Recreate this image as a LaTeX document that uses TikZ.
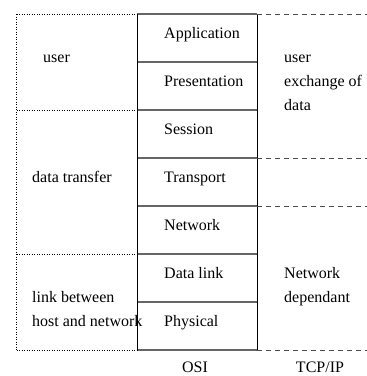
\documentclass[tikz,border=0pt]{standalone}
\usepackage{fontspec}
\setmainfont{Liberation Serif}
\begin{document}
\begin{tikzpicture}[x=1pt,y=-1pt,
  lbl/.style={anchor=base west,inner sep=0pt,font=\fontsize{16}{19}\selectfont},
  captxt/.style={anchor=base,inner sep=0pt,font=\fontsize{16}{19}\selectfont},
  layerline/.style={draw=black!60,line width=1.1pt},
  colline/.style={draw=black,line width=0.9pt},
  dotline/.style={draw=black,line width=0.9pt,dash pattern=on 1pt off 1.5pt},
  dashline/.style={draw=black!70,line width=0.9pt,dash pattern=on 5pt off 4pt}]
\useasboundingbox (0,0) rectangle (367,376);
% coordinates
\coordinate (L0) at (16.5,14);
\coordinate (L1) at (16.5,110);
\coordinate (L2) at (16.5,254);
\coordinate (L3) at (16.5,350);
\coordinate (A0) at (137,14);
\coordinate (A1) at (137,62);
\coordinate (A2) at (137,110);
\coordinate (A3) at (137,158);
\coordinate (A4) at (137,206);
\coordinate (A5) at (137,254);
\coordinate (A6) at (137,302);
\coordinate (A7) at (137,350);
\coordinate (B0) at (257,14);
\coordinate (B1) at (257,62);
\coordinate (B2) at (257,110);
\coordinate (B3) at (257,158);
\coordinate (B4) at (257,206);
\coordinate (B5) at (257,254);
\coordinate (B6) at (257,302);
\coordinate (B7) at (257,350);
\coordinate (R0) at (367,14);
\coordinate (R3) at (367,158);
\coordinate (R4) at (367,206);
\coordinate (R7) at (367,350);
% OSI column
\foreach \i in {0,...,7} {\draw[layerline] (A\i) -- (B\i);}
\draw[colline] (A0) -- (A7);
\draw[colline] (B0) -- (B7);
% left dotted frame
\draw[dotline] (L0) -- (L3);
\draw[dotline] (L0) -- (A0);
\draw[dotline] (L1) -- (A2);
\draw[dotline] (L2) -- (A5);
\draw[dotline] (L3) -- (A7);
\draw[dotline] (A0) -- (A7);
% right dashed
\draw[dashline] (B0) -- (R0);
\draw[dashline] (B3) -- (R3);
\draw[dashline] (B4) -- (R4);
\draw[dashline] (B7) -- (R7);
% layer labels
\node[lbl] (app) at (164,38) {Application};
\node[lbl] (pres) at (164,86) {Presentation};
\node[lbl] (sess) at (164,134) {Session};
\node[lbl] (trans) at (164,182) {Transport};
\node[lbl] (net) at (164,230) {Network};
\node[lbl] (dlink) at (164,278) {Data link};
\node[lbl] (phys) at (164,326) {Physical};
% left labels
\node[lbl] (luser) at (43,62) {user};
\node[lbl] (ldata) at (32,182) {data transfer};
\node[lbl] (llink1) at (32,302) {link between};
\node[lbl] (llink2) at (32,326) {host and network};
% right labels
\node[lbl] (ruser1) at (284,62) {user};
\node[lbl] (ruser2) at (284,86) {exchange of};
\node[lbl] (ruser3) at (284,110) {data};
\node[lbl] (rnet1) at (284,278) {Network};
\node[lbl] (rnet2) at (284,302) {dependant};
% captions
\node[captxt] (osi) at (195,372) {OSI};
\node[captxt] (tcp) at (320,372) {TCP/IP};
\end{tikzpicture}
\end{document}
